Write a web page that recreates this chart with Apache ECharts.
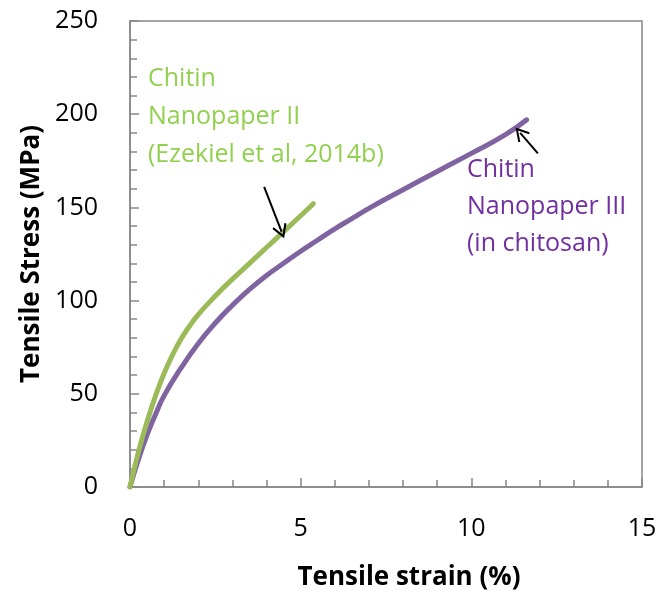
<!DOCTYPE html>
<html>
<head>
<meta charset="utf-8">
<script src="https://cdn.jsdelivr.net/npm/echarts@6/dist/echarts.min.js"></script>
<style>
  html, body { margin: 0; padding: 0; background: #fff; }
  #chart { width: 660px; height: 602px; }
</style>
</head>
<body>
<div id="chart"></div>
<script>
// Tensile stress–strain curves of two chitin nanopapers
var strainII = [0, 0.25, 0.5, 0.75, 1.0, 1.25, 1.5, 1.75, 2.0, 2.5, 3.0, 3.5, 4.0, 4.5, 5.0, 5.37];
var stressII = [0, 19, 35, 49, 61, 71, 79.5, 86.5, 92.5, 102.5, 111.5, 120, 128.5, 137, 145.5, 152];

var strainIII = [0, 0.25, 0.5, 0.75, 1.0, 1.5, 2.0, 2.5, 3.0, 3.5, 4.0, 4.5, 5.0, 5.5, 6.0, 6.5, 7.0, 8.0, 9.0, 10.0, 11.0, 11.62];
var stressIII = [0, 15, 28, 39, 49, 64, 77, 88, 97.5, 106, 113.5, 120, 126.5, 132.5, 138.5, 144, 149.5, 159.5, 169.3, 179, 189, 197];

// arrow annotations: [start, tip] in strain/stress units
var arrowII = [[3.93, 161], [4.44, 137]];
var arrowIII = [[11.95, 179], [11.43, 190]];

var xTicks = [0, 5, 10, 15];
var yTicks = [0, 50, 100, 150, 200, 250];

var labelII = ['Chitin', 'Nanopaper II', '(Ezekiel et al, 2014b)'];
var labelIII = ['Chitin', 'Nanopaper III', '(in chitosan)'];

function pairs(xs, ys) {
  return xs.map(function (x, i) { return [x, ys[i]]; });
}

var FONT = '"Open Sans", "Noto Sans", sans-serif';
var AXIS_COLOR = '#868686';
var chevron = 'path://M0,0 L6,10 L4.6,11 L0,3 L-4.6,11 L-6,10 Z';

function arrowLine(a) {
  return {
    silent: true,
    symbol: ['none', chevron],
    symbolSize: [15, 14],
    label: { show: false },
    lineStyle: { color: '#000', width: 2, type: 'solid' },
    emphasis: { disabled: true },
    data: [[{ coord: a[0] }, { coord: a[1] }]]
  };
}

var chart = echarts.init(document.getElementById('chart'), null, { renderer: 'canvas' });

chart.setOption({
  animation: false,
  backgroundColor: '#fff',
  grid: {
    left: 130, right: 18, top: 21, bottom: 115,
    show: true, borderColor: AXIS_COLOR, borderWidth: 1.5, backgroundColor: 'transparent'
  },
  xAxis: {
    type: 'value',
    min: xTicks[0], max: xTicks[xTicks.length - 1], interval: 5,
    name: 'Tensile strain (%)',
    nameLocation: 'middle',
    nameGap: 78,
    nameTextStyle: { fontFamily: FONT, fontWeight: 'bold', fontSize: 26, color: '#000', padding: [0, 0, 0, 46] },
    axisLine: { lineStyle: { color: AXIS_COLOR, width: 1.5 } },
    axisTick: { inside: true, length: 9, lineStyle: { color: AXIS_COLOR, width: 1.5 } },
    minorTick: { show: true, splitNumber: 5, length: 7, lineStyle: { color: AXIS_COLOR, width: 1.5 } },
    splitLine: { show: false },
    axisLabel: { fontFamily: FONT, fontSize: 25, color: '#000', margin: 29 }
  },
  yAxis: {
    type: 'value',
    min: yTicks[0], max: yTicks[yTicks.length - 1], interval: 50,
    name: 'Tensile Stress (MPa)',
    nameLocation: 'middle',
    nameGap: 84,
    nameTextStyle: { fontFamily: FONT, fontWeight: 'bold', fontSize: 26, color: '#000' },
    axisLine: { show: true, lineStyle: { color: AXIS_COLOR, width: 1.5 } },
    axisTick: { show: true, inside: true, length: 9, lineStyle: { color: AXIS_COLOR, width: 1.5 } },
    minorTick: { show: true, splitNumber: 5, length: 7, lineStyle: { color: AXIS_COLOR, width: 1.5 } },
    splitLine: { show: false },
    axisLabel: { fontFamily: FONT, fontSize: 25, color: '#000', margin: 32 }
  },
  series: [
    {
      name: 'Chitin Nanopaper III',
      type: 'line',
      data: pairs(strainIII, stressIII),
      smooth: 0.5,
      showSymbol: false,
      lineStyle: { color: '#8064A2', width: 5, cap: 'round' },
      markLine: arrowLine(arrowIII),
      z: 2
    },
    {
      name: 'Chitin Nanopaper II',
      type: 'line',
      data: pairs(strainII, stressII),
      smooth: 0.5,
      showSymbol: false,
      lineStyle: { color: '#9BBB59', width: 5, cap: 'round' },
      markLine: arrowLine(arrowII),
      z: 3
    }
  ],
  graphic: [
    {
      type: 'text', left: 148, top: 60,
      style: { text: labelII.join('\n'), font: '25px ' + FONT, fill: '#92D050', lineHeight: 38 }
    },
    {
      type: 'text', left: 467, top: 151,
      style: { text: labelIII.join('\n'), font: '25px ' + FONT, fill: '#7030A0', lineHeight: 37 }
    }
  ]
});
</script>
</body>
</html>
